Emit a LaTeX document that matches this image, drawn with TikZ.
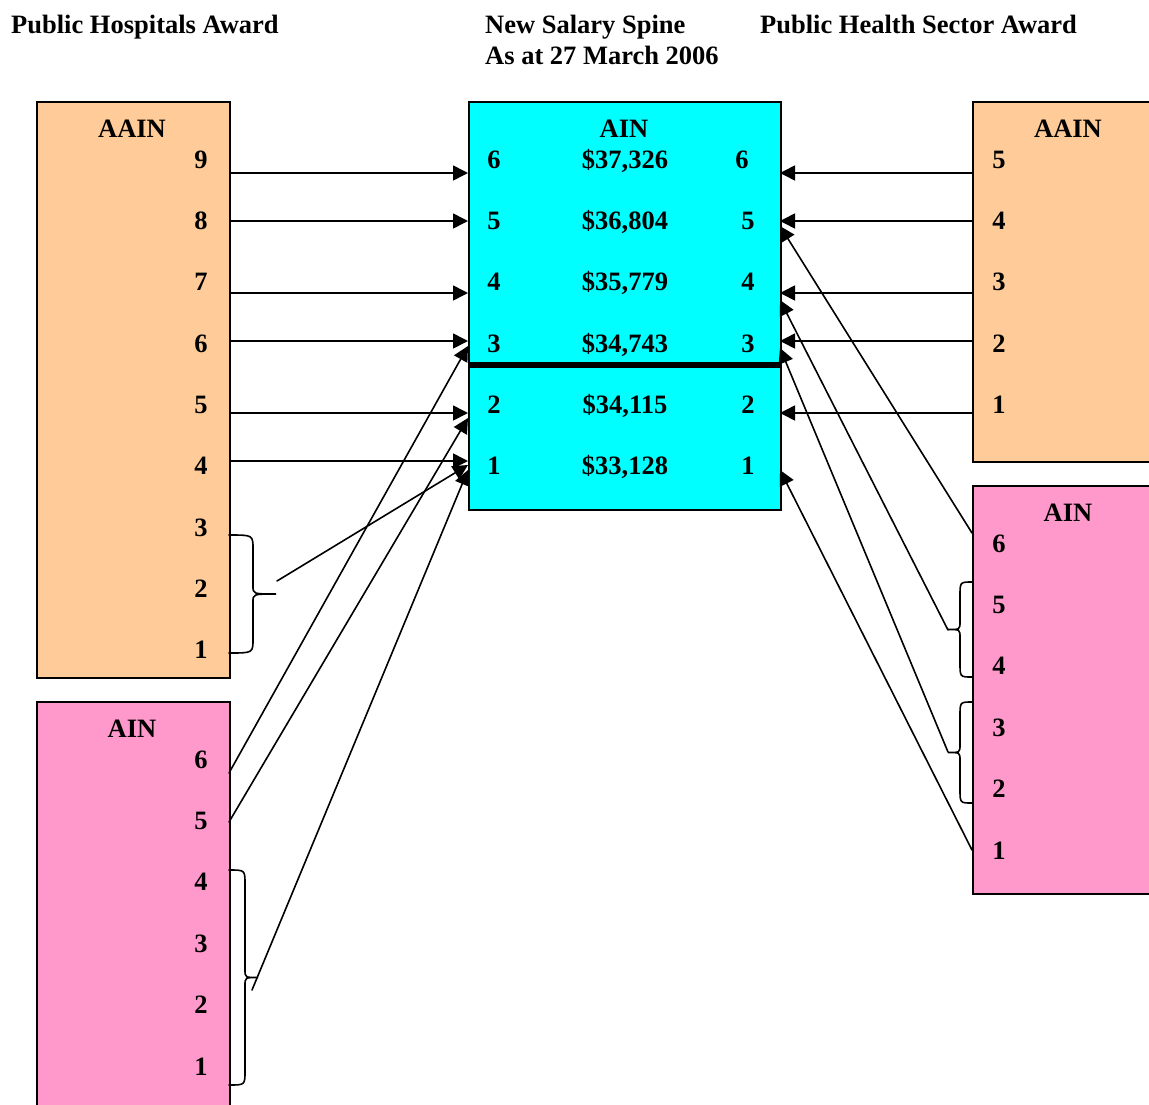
\documentclass[tikz,border=0pt]{standalone}
\usepackage{fontspec}
\setmainfont{Liberation Serif}
\usetikzlibrary{arrows.meta}
\tikzset{>={Triangle[length=15pt, width=15pt]}}

% Brace: edge x, top y, bottom y, arm offset, tip offset
\newcommand\awardbrace[5]{
    \draw[brace line] {
        (#1,#2) .. controls ({#1+#4},#2) .. ({#1+#4},{#2+14})
        -- ({#1+#4},{(#2+#3)/2-8})
        .. controls ({#1+#4},{(#2+#3)/2}) .. ({#1+#5},{(#2+#3)/2})
        .. controls ({#1+#4},{(#2+#3)/2}) .. ({#1+#4},{(#2+#3)/2+8})
        -- ({#1+#4},{#3-14})
        .. controls ({#1+#4},#3) .. (#1,#3)
    };
}

\begin{document}
\begin{tikzpicture}
% Style
[
    x=1pt, y=-1pt, line cap=round,
    award box/.style={draw, line width=1.5pt, anchor=north west, inner sep=0pt},
    label text/.style={font=\bfseries\fontsize{26.5}{30}\selectfont, anchor=base, inner sep=0pt},
    link/.style={line width=1.6pt, ->},
    brace line/.style={line width=1.6pt}
]

% Define: Colors
\definecolor{aain_fill}{HTML}{FFCC99}
\definecolor{ain_fill}{HTML}{FF99CC}
\definecolor{spine_fill}{HTML}{00FFFF}

%================================== Prepare ==================================
\clip (0,0) rectangle (1149,1104);

% Draw: Titles
\node[label text, anchor=base west] (title_pha)   at (11,33)  {Public Hospitals Award};
\node[label text, anchor=base west] (title_spine) at (485,33) {New Salary Spine};
\node[label text, anchor=base west] (title_date)  at (485,64) {As at 27 March 2006};
\node[label text, anchor=base west] (title_phs)   at (760,33) {Public Health Sector Award};

% Draw: Boxes
\node[award box, fill=aain_fill,  minimum width=193pt, minimum height=576pt] (pha_aain)  at (36,101)  {};
\node[award box, fill=ain_fill,   minimum width=193pt, minimum height=420pt] (pha_ain)   at (36,701)  {};
\node[award box, fill=spine_fill, minimum width=312pt, minimum height=408pt] (spine_box) at (468,101) {};
\node[award box, fill=aain_fill,  minimum width=200pt, minimum height=360pt] (phs_aain)  at (972,101) {};
\node[award box, fill=ain_fill,   minimum width=200pt, minimum height=408pt] (phs_ain)   at (972,485) {};
\draw[line width=6pt, line cap=butt] (spine_box.west |- 0,365) -- (spine_box.east |- 0,365);

% Draw: Box headers
\node[label text] (pha_aain_head)  at (132,137)  {AAIN};
\node[label text] (pha_ain_head)   at (132,737)  {AIN};
\node[label text] (spine_head)     at (624,137)  {AIN};
\node[label text] (phs_aain_head)  at (1068,137) {AAIN};
\node[label text] (phs_ain_head)   at (1068,521) {AIN};

% Draw: Step numbers
\foreach \n/\y in {9/159, 8/220, 7/281, 6/343, 5/404, 4/465, 3/527, 2/588, 1/649} {
    \node[label text] (pha_a\n) at (201,\y+9) {\n};
}
\foreach \n/\y in {6/759, 5/820, 4/881, 3/943, 2/1004, 1/1066} {
    \node[label text] (pha_p\n) at (201,\y+9) {\n};
}
\foreach \n/\amt/\x/\y in {6/{\$37,326}/742/159, 5/{\$36,804}/748/220, 4/{\$35,779}/748/281,
                           3/{\$34,743}/748/343, 2/{\$34,115}/748/404, 1/{\$33,128}/748/465} {
    \node[label text] (spine_l\n)   at (494,\y+9) {\n};
    \node[label text] (spine_amt\n) at (625,\y+9) {\amt};
    \node[label text] (spine_r\n)   at (\x,\y+9)  {\n};
}
\foreach \n/\y in {5/159, 4/220, 3/281, 2/343, 1/404} {
    \node[label text] (phs_a\n) at (999,\y+9) {\n};
}
\foreach \n/\y in {6/543, 5/604, 4/665, 3/727, 2/788, 1/850} {
    \node[label text] (phs_p\n) at (999,\y+9) {\n};
}

% Draw: Braces
\awardbrace{229}{535}{653}{24}{47}
\awardbrace{229}{870}{1085}{16}{29}
\awardbrace{972}{582}{677}{-12}{-24}
\awardbrace{972}{702}{803}{-12}{-24}

%=================================== Start ===================================
% Define: Arrow ends
\coordinate (spine_in6)  at (468,173);
\coordinate (spine_in5)  at (468,221);
\coordinate (spine_in4)  at (468,293);
\coordinate (spine_in3)  at (468,341);
\coordinate (spine_in2)  at (468,413);
\coordinate (spine_in1)  at (468,461);
\coordinate (spine_in3b) at (468,346);
\coordinate (spine_in2b) at (468,418);
\coordinate (spine_in1b) at (468,465);
\coordinate (spine_in1c) at (468,470);
\coordinate (spine_out6)  at (780,173);
\coordinate (spine_out5)  at (780,221);
\coordinate (spine_out4)  at (780,293);
\coordinate (spine_out3)  at (780,341);
\coordinate (spine_out2)  at (780,413);
\coordinate (spine_out5b) at (780,226);
\coordinate (spine_out4b) at (780,300);
\coordinate (spine_out3b) at (780,348);
\coordinate (spine_out1)  at (780,470);

% Define: Arrow starts
\coordinate (pha_p6_edge)   at (229,773);
\coordinate (pha_p5_edge)   at (229,822);
\coordinate (pha_a123_tip)  at (277,581);
\coordinate (pha_p1234_tip) at (252,990);
\coordinate (phs_p6_edge)   at (972,533);
\coordinate (phs_p45_tip)   at (948,630);
\coordinate (phs_p23_tip)   at (948,752);
\coordinate (phs_p1_edge)   at (972,850);

% Draw: Public Hospitals Award -> spine
\foreach \n in {6,5,4,3,2,1} {
    \draw[link] (pha_aain.east |- spine_in\n) -- (spine_in\n);
}
\draw[link] (pha_p6_edge)   -- (spine_in3b);
\draw[link] (pha_p5_edge)   -- (spine_in2b);
\draw[link] (pha_a123_tip)  -- (spine_in1b);
\draw[link] (pha_p1234_tip) -- (spine_in1c);

% Draw: Public Health Sector Award -> spine
\foreach \n in {6,5,4,3,2} {
    \draw[link] (phs_aain.west |- spine_out\n) -- (spine_out\n);
}
\draw[link] (phs_p6_edge) -- (spine_out5b);
\draw[link] (phs_p45_tip) -- (spine_out4b);
\draw[link] (phs_p23_tip) -- (spine_out3b);
\draw[link] (phs_p1_edge) -- (spine_out1);
%==================================== END ====================================
\end{tikzpicture}
\end{document}
